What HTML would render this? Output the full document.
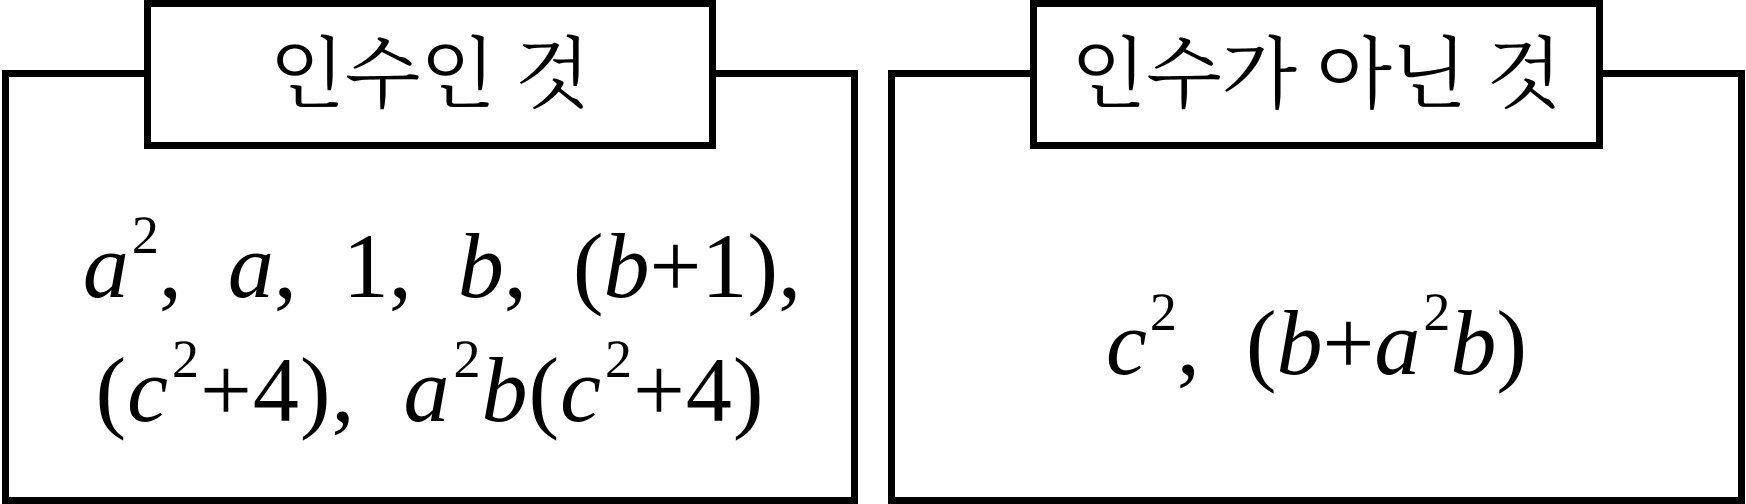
<!DOCTYPE html>
<html><head><meta charset="utf-8"><style>
html,body{margin:0;padding:0;background:#fff;}
body{width:1746px;height:504px;position:relative;overflow:hidden;}
.box{position:absolute;border:7px solid #000;box-sizing:border-box;background:#fff;}
.t{position:absolute;font-family:"Liberation Serif","Noto Serif CJK SC",serif;font-size:78px;line-height:1;text-align:center;white-space:nowrap;}
.m{position:absolute;font-family:"Liberation Serif",serif;font-size:92px;line-height:1;white-space:nowrap;text-align:center;}
.m i{font-style:italic;}
.m sup{font-size:54px;vertical-align:0;position:relative;top:-44px;font-style:normal;margin-left:3px;}
</style></head><body>
<div class="box" style="left:2px;top:70px;width:856px;height:434px;"></div>
<div class="box" style="left:144px;top:0px;width:572px;height:149px;"></div>
<div class="t" style="left:144px;width:572px;top:36px;">인수인 것</div>
<div class="box" style="left:888px;top:70px;width:857px;height:434px;"></div>
<div class="box" style="left:1030px;top:0px;width:573px;height:149px;"></div>
<div class="t" style="left:1030px;width:573px;top:36px;">인수가 아닌 것</div>

<div class="m" style="left:14px;width:856px;top:220px;"><i>a</i><sup>2</sup>, &nbsp;<i>a</i>, &nbsp;1, &nbsp;<i>b</i>, &nbsp;(<i>b</i>+1),</div>
<div class="m" style="left:2px;width:856px;top:344px;letter-spacing:1px;">(<i>c</i><sup>2</sup>+4), &nbsp;<i>a</i><sup>2</sup><i>b</i>(<i>c</i><sup>2</sup>+4)</div>
<div class="m" style="left:888px;width:857px;top:297px;"><i>c</i><sup>2</sup>, &nbsp;(<i>b</i>+<i>a</i><sup>2</sup><i>b</i>)</div>
</body></html>
